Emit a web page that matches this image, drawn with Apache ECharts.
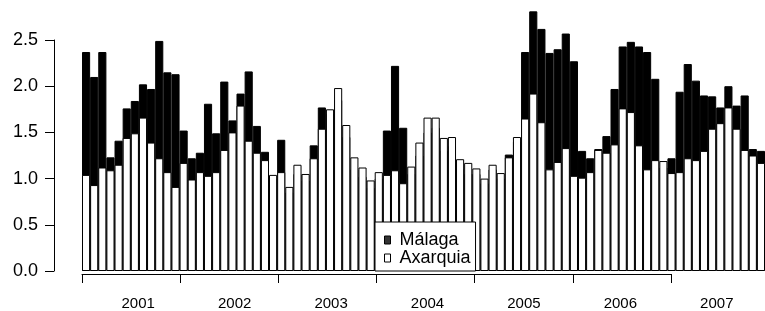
<!DOCTYPE html>
<html>
<head>
<meta charset="utf-8">
<script src="https://cdn.jsdelivr.net/npm/echarts@6/dist/echarts.min.js"></script>
<style>
  html, body { margin: 0; padding: 0; background: #fff; }
  #chart { width: 765px; height: 311px; }
</style>
</head>
<body>
<div id="chart"></div>
<script>
// years shown under the axis
const years = ['2001', '2002', '2003', '2004', '2005', '2006', '2007']

// monthly values, Jan 2001 .. Dec 2007
const malaga = [
  2.37, 2.10, 2.37, 1.23, 1.41, 1.76, 1.84, 2.02, 1.97, 2.49, 2.15, 2.13,
  1.52, 1.22, 1.28, 1.81, 1.49, 2.05, 1.63, 1.92, 2.16, 1.57, 1.29, 1.00,
  1.42, 0.85, 1.05, 0.98, 1.36, 1.77, 1.70, 1.85, 1.45, 1.10, 1.02, 0.90,
  1.00, 1.52, 2.22, 1.55, 1.05, 1.25, 1.50, 1.55, 1.30, 1.35, 1.10, 1.05,
  1.05, 0.95, 1.10, 1.00, 1.26, 1.40, 2.37, 2.81, 2.62, 2.36, 2.40, 2.57,
  2.27, 1.30, 1.22, 1.32, 1.46, 1.97, 2.43, 2.48, 2.43, 2.37, 2.08, 1.12,
  1.22, 1.94, 2.24, 2.06, 1.90, 1.89, 1.77, 2.00, 1.79, 1.90, 1.32, 1.30
]
const axarquia = [
  1.04, 0.93, 1.12, 1.09, 1.15, 1.44, 1.49, 1.66, 1.39, 1.22, 1.07, 0.91,
  1.17, 0.99, 1.07, 1.03, 1.07, 1.31, 1.50, 1.79, 1.41, 1.28, 1.20, 1.04,
  1.07, 0.91, 1.15, 1.05, 1.22, 1.54, 1.75, 1.98, 1.58, 1.23, 1.12, 0.98,
  1.07, 1.04, 1.09, 0.95, 1.13, 1.39, 1.66, 1.66, 1.44, 1.45, 1.21, 1.17,
  1.11, 1.00, 1.15, 1.06, 1.23, 1.45, 1.65, 1.92, 1.61, 1.10, 1.18, 1.33,
  1.03, 1.01, 1.07, 1.31, 1.28, 1.37, 1.76, 1.72, 1.36, 1.10, 1.20, 1.19,
  1.06, 1.07, 1.22, 1.20, 1.30, 1.54, 1.60, 1.77, 1.54, 1.31, 1.25, 1.17
]

const months = []
years.forEach(y => { for (let m = 1; m <= 12; m++) months.push(y + '-' + m) })

const font = 'Liberation Sans'
const chart = echarts.init(document.getElementById('chart'))

chart.setOption({
  animation: false,
  textStyle: { fontFamily: font },
  grid: [
    { left: 82, width: 687, top: 40, height: 231 },
    // year ticks: Jan 2001 .. Jan 2007
    { left: 82, width: 589, top: 100, bottom: 37 },
    // year labels
    { left: 90, width: 687, top: 100, bottom: 37 }
  ],
  xAxis: [
    { gridIndex: 0, type: 'category', data: months, show: false },
    {
      gridIndex: 1, type: 'value', min: 0, max: 72, interval: 12,
      axisLine: { show: true, onZero: false, lineStyle: { color: '#000', width: 1 } },
      axisTick: { show: true, length: 9, lineStyle: { color: '#000' } },
      axisLabel: { show: false },
      splitLine: { show: false }
    },
    {
      gridIndex: 2, type: 'category', data: years,
      axisLine: { show: false, onZero: false }, axisTick: { show: false },
      axisLabel: { margin: 22, fontSize: 15, color: '#000', fontFamily: font }
    }
  ],
  yAxis: [
    {
      gridIndex: 0, type: 'value', min: 0, max: 2.5, interval: 0.5, offset: 28,
      axisLine: { show: true, lineStyle: { color: '#000', width: 1 } },
      axisTick: { show: true, length: 9, lineStyle: { color: '#000' } },
      axisLabel: { margin: 16, fontSize: 18, color: '#000', fontFamily: font, formatter: v => v.toFixed(1) },
      splitLine: { show: false }
    },
    { gridIndex: 1, type: 'value', show: false },
    { gridIndex: 2, type: 'value', show: false }
  ],
  legend: {
    orient: 'vertical',
    left: 375, top: 222,
    padding: [9, 5, 4, 9],
    itemWidth: 6, itemHeight: 8, itemGap: 0,
    backgroundColor: '#fff', borderColor: '#000', borderWidth: 1, borderRadius: 0,
    icon: 'rect',
    textStyle: { fontSize: 18, lineHeight: 18, color: '#000', fontFamily: font, padding: [0, 0, 0, 4] },
    data: [
      { name: 'Málaga', itemStyle: { color: '#333', borderColor: '#000', borderWidth: 1 } },
      { name: 'Axarquia', itemStyle: { color: '#fff', borderColor: '#000', borderWidth: 1 } }
    ]
  },
  series: [
    {
      name: 'Málaga', type: 'bar', data: malaga,
      barCategoryGap: '0%', barGap: '-100%', clip: false,
      itemStyle: { color: '#000', borderColor: '#000', borderWidth: 1 }
    },
    {
      name: 'Axarquia', type: 'bar', data: axarquia,
      barCategoryGap: '0%', barGap: '-100%', clip: false,
      itemStyle: { color: '#fff', borderColor: '#000', borderWidth: 1 }
    }
  ]
})
</script>
</body>
</html>
